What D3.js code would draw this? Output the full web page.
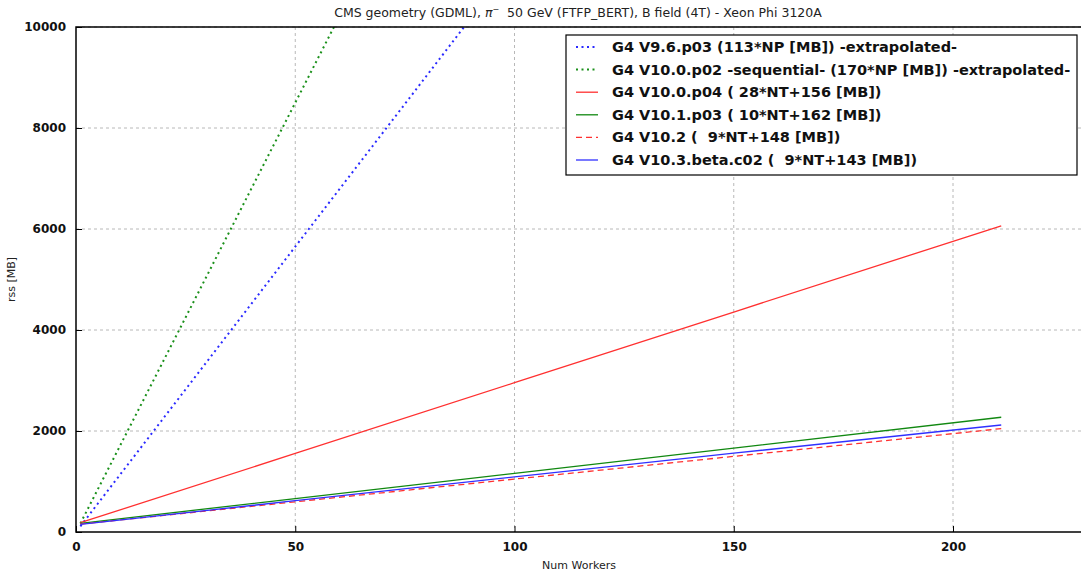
<!DOCTYPE html>
<html>
<head>
<meta charset="utf-8">
<script src="https://d3js.org/d3.v7.min.js"></script>
<style>
body { margin: 0; background: #fff; }
svg { font-family: "DejaVu Sans", sans-serif; }
text { white-space: pre; }
</style>
</head>
<body>
<div id="chart"></div>
<script>
var workers = [1, 50, 100, 150, 211];
var v96 = [113, 5650, 11300, 16950, 23843];
var v100seq = [170, 8500, 17000, 25500, 35870];
var v100p04 = [184, 1556, 2956, 4356, 6064];
var v101p03 = [172, 662, 1162, 1662, 2272];
var v102 = [157, 598, 1048, 1498, 2047];
var v103 = [152, 620, 1090, 1560, 2119];

var seriesNames = [
  "G4 V9.6.p03 (113*NP [MB]) -extrapolated-",
  "G4 V10.0.p02 -sequential- (170*NP [MB]) -extrapolated-",
  "G4 V10.0.p04 ( 28*NT+156 [MB])",
  "G4 V10.1.p03 ( 10*NT+162 [MB])",
  "G4 V10.2 (  9*NT+148 [MB])",
  "G4 V10.3.beta.c02 (  9*NT+143 [MB])"
];
var xTicks = [0, 50, 100, 150, 200];
var yTicks = [0, 2000, 4000, 6000, 8000, 10000];

var series = [
  { name: seriesNames[0], values: v96, color: "#2a2aff", dash: "2,3.5", width: 2 },
  { name: seriesNames[1], values: v100seq, color: "#1a901a", dash: "2,3.5", width: 2 },
  { name: seriesNames[2], values: v100p04, color: "#ff3030", dash: null, width: 1.3 },
  { name: seriesNames[3], values: v101p03, color: "#118811", dash: null, width: 1.3 },
  { name: seriesNames[4], values: v102, color: "#ff3030", dash: "6,4", width: 1.3 },
  { name: seriesNames[5], values: v103, color: "#3030ff", dash: null, width: 1.3 }
];

var W = 1081, H = 573;
var margin = { left: 76, top: 27, bottom: 41 };
var plotW = 230 * 4.385;
var plotH = H - margin.top - margin.bottom;

var svg = d3.select("#chart").append("svg")
  .attr("width", W).attr("height", H);

var x = d3.scaleLinear().domain([0, 230]).range([margin.left, margin.left + plotW]);
var y = d3.scaleLinear().domain([0, 10000]).range([margin.top + plotH, margin.top]);

svg.append("defs").append("clipPath").attr("id", "clip")
  .append("rect").attr("x", margin.left).attr("y", margin.top)
  .attr("width", plotW).attr("height", plotH);

// grid
var grid = svg.append("g");
grid.selectAll(".gx").data(xTicks.slice(1)).enter().append("line")
  .attr("x1", d => x(d)).attr("x2", d => x(d))
  .attr("y1", margin.top).attr("y2", margin.top + plotH)
  .attr("stroke", "#b8b8b8").attr("stroke-dasharray", "3,3").attr("stroke-width", 1);
grid.selectAll(".gy").data(yTicks.slice(1)).enter().append("line")
  .attr("y1", d => y(d)).attr("y2", d => y(d))
  .attr("x1", margin.left).attr("x2", margin.left + plotW)
  .attr("stroke", "#b8b8b8").attr("stroke-dasharray", "3,3").attr("stroke-width", 1);

// lines
var line = d3.line().x((d, i) => x(workers[i])).y(d => y(d));
var lines = svg.append("g").attr("clip-path", "url(#clip)");
series.forEach(function (s) {
  lines.append("path").datum(s.values)
    .attr("d", line)
    .attr("fill", "none")
    .attr("stroke", s.color)
    .attr("stroke-width", s.width)
    .attr("stroke-dasharray", s.dash);
});

// axes (ticks pointing inward, matplotlib classic)
var xAxis = svg.append("g").attr("transform", "translate(0," + (margin.top + plotH) + ")")
  .call(d3.axisBottom(x).tickValues(xTicks).tickSize(-6).tickPadding(10));
var yAxis = svg.append("g").attr("transform", "translate(" + margin.left + ",0)")
  .call(d3.axisLeft(y).tickValues(yTicks).tickSize(-6).tickPadding(10).tickFormat(d3.format("d")));
[xAxis, yAxis].forEach(function (a) {
  a.select(".domain").remove();
  a.selectAll("text").attr("font-size", 12).attr("font-weight", "bold").attr("fill", "#111")
    .attr("font-family", "DejaVu Sans, sans-serif");
  a.selectAll("line").attr("stroke", "#000");
});

// frame
svg.append("rect").attr("x", margin.left).attr("y", margin.top)
  .attr("width", plotW).attr("height", plotH)
  .attr("fill", "none").attr("stroke", "#000").attr("stroke-width", 1.5);

// title & labels
var title = svg.append("text").attr("x", 578).attr("y", 17).attr("text-anchor", "middle")
  .attr("font-size", 12.5).attr("fill", "#222");
title.append("tspan").text("CMS geometry (GDML), ");
title.append("tspan").attr("font-style", "italic").text("\u03c0");
title.append("tspan").attr("font-size", 8).attr("dy", -5).text("\u2212");
title.append("tspan").attr("dy", 5).text("  50 GeV (FTFP_BERT), B field (4T) - Xeon Phi 3120A");

svg.append("text").attr("x", 579).attr("y", 569).attr("text-anchor", "middle")
  .attr("font-size", 11).attr("fill", "#222").text("Num Workers");
svg.append("text").attr("transform", "translate(15," + (margin.top + plotH / 2) + ") rotate(-90)")
  .attr("text-anchor", "middle").attr("font-size", 11).attr("fill", "#222").text("rss [MB]");

// legend
var lg = svg.append("g").attr("transform", "translate(566,35)");
lg.append("rect").attr("width", 511).attr("height", 140)
  .attr("fill", "#fff").attr("stroke", "#000").attr("stroke-width", 1.2);
series.forEach(function (s, i) {
  var yy = 12 + i * 22.6;
  lg.append("line").attr("x1", 10).attr("x2", 32).attr("y1", yy).attr("y2", yy)
    .attr("stroke", s.color).attr("stroke-width", s.width)
    .attr("stroke-dasharray", s.dash);
  lg.append("text").attr("x", 46).attr("y", yy + 5).attr("font-size", 14.5)
    .attr("font-weight", "bold").attr("fill", "#111").text(s.name);
});
</script>
</body>
</html>
